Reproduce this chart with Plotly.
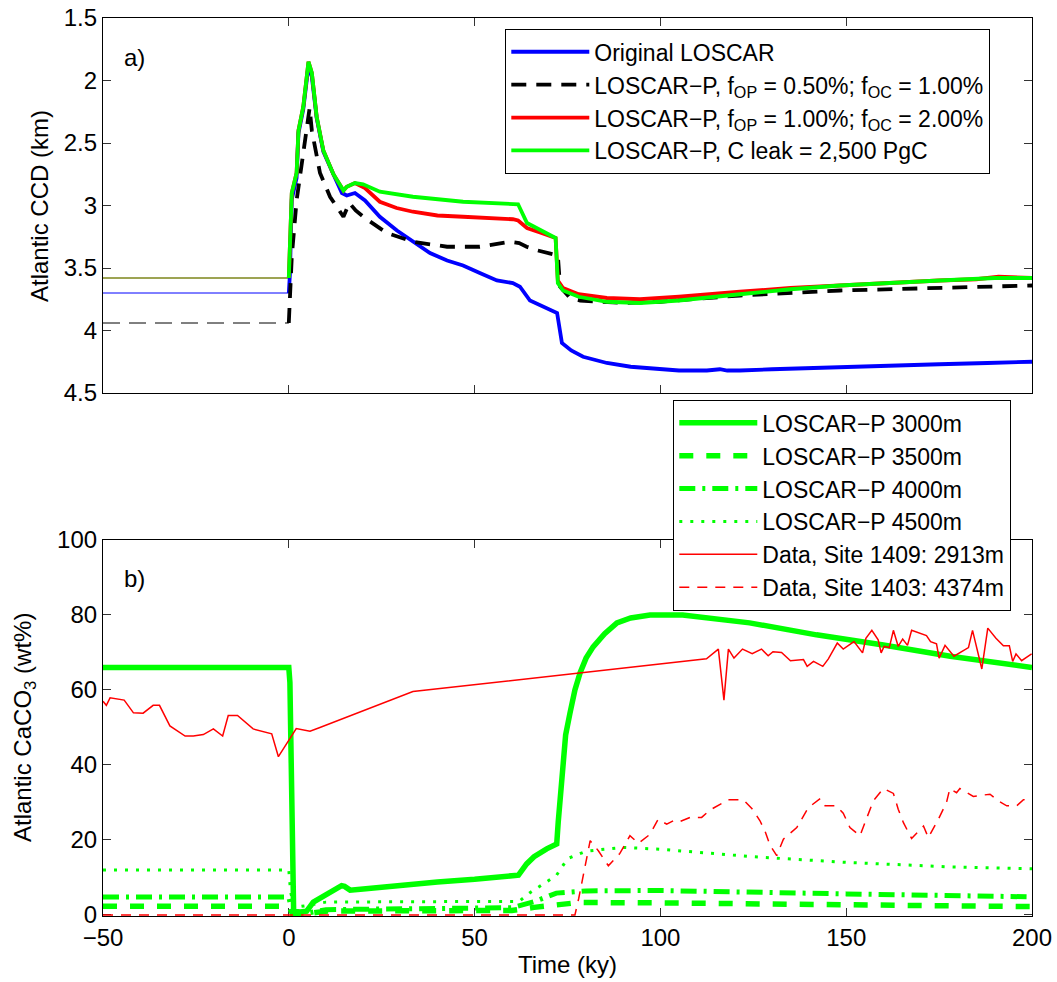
import plotly.graph_objects as go

# ---------------- panel a) Atlantic CCD (km) ----------------
t_pre = [-50, 0]
ccd_pre_orig = [3.70, 3.70]
ccd_pre_p05 = [3.94, 3.94]
ccd_pre_p10 = [3.58, 3.58]
ccd_pre_leak = [3.58, 3.58]

t_orig = [0, 0.3, 0.8, 2.1, 2.6, 3.9, 5.3, 6.2, 7.5, 9.3, 12, 14.3, 15.6, 17.8, 20.5, 24.5,
          29.1, 33.4, 38, 42.6, 46.9, 51.4, 56, 60.3, 62.2, 64.9, 68.4, 71.6, 72.2, 73.5, 76,
          79.2, 85.6, 92, 99, 105, 112.5, 116, 118, 121.4, 130, 140, 148.3, 160, 170, 175,
          188, 200]
ccd_orig = [3.70, 3.55, 2.95, 2.78, 2.42, 2.23, 1.88, 1.97, 2.30, 2.57, 2.75, 2.90, 2.92, 2.90,
            2.96, 3.09, 3.20, 3.29, 3.38, 3.44, 3.48, 3.54, 3.60, 3.62, 3.65, 3.76, 3.81, 3.85,
            3.86, 4.10, 4.16, 4.21, 4.26, 4.29, 4.31, 4.32, 4.32, 4.31, 4.32, 4.32, 4.31, 4.30,
            4.29, 4.28, 4.27, 4.27, 4.26, 4.25]

t_p05 = [0, 0.8, 2.1, 3.9, 5.6, 6.2, 8.4, 11.1, 14.7, 16.3, 18, 20.5, 26.4, 33.4, 42.6, 51.4,
         56, 59.5, 62, 64, 67, 70.3, 72.4, 73, 75.7, 78.4, 90, 100, 121.4, 148.3, 175, 200]
ccd_p05 = [3.94, 3.41, 2.96, 2.56, 2.22, 2.40, 2.74, 2.93, 3.09, 2.98, 3.04, 3.10, 3.22, 3.29,
           3.33, 3.33, 3.31, 3.29, 3.30, 3.33, 3.36, 3.38, 3.40, 3.65, 3.74, 3.76, 3.78, 3.77,
           3.72, 3.68, 3.66, 3.64]

t_p10 = [0, 0.3, 0.8, 2.1, 2.6, 3.9, 5.3, 6.2, 7.5, 9.3, 12, 14.7, 15.6, 17.8, 20.5, 24.5, 29,
         33.4, 40, 46.9, 55, 60.3, 61.7, 64.1, 68, 71.1, 71.8, 72.4, 73.8, 78, 85.6, 94.5, 105,
         121.4, 135, 148.3, 160, 175, 185, 191, 200]
ccd_p10 = [3.58, 3.22, 2.90, 2.74, 2.40, 2.21, 1.85, 1.94, 2.29, 2.56, 2.75, 2.88, 2.85, 2.82,
           2.86, 2.97, 3.02, 3.05, 3.08, 3.09, 3.10, 3.11, 3.12, 3.18, 3.22, 3.25, 3.26, 3.60,
           3.66, 3.71, 3.74, 3.75, 3.73, 3.69, 3.66, 3.64, 3.62, 3.60, 3.59, 3.57, 3.58]

t_leak = [0, 0.3, 0.8, 2.1, 2.6, 3.9, 5.3, 6.2, 7.5, 9.3, 12, 14.7, 15.6, 17.8, 20, 24.5, 33.4,
          46.9, 60.3, 61.7, 64.1, 68, 71.1, 71.8, 72.4, 73.8, 78, 85.6, 94.5, 105, 121.4, 135,
          148.3, 160, 175.2, 190, 200]
ccd_leak = [3.58, 3.22, 2.90, 2.74, 2.40, 2.21, 1.85, 1.94, 2.29, 2.56, 2.75, 2.88, 2.85, 2.82,
            2.83, 2.89, 2.93, 2.97, 2.99, 2.99, 3.14, 3.20, 3.25, 3.26, 3.62, 3.68, 3.73, 3.77,
            3.78, 3.76, 3.71, 3.67, 3.64, 3.62, 3.60, 3.58, 3.58]

# ---------------- panel b) Atlantic CaCO3 (wt%) ----------------
t_3000 = [-50, 0, 0.3, 0.7, 1.0, 1.3, 3, 4.8, 6.6, 10, 14.2, 15, 16.5, 20, 30, 40, 50, 61.8, 64,
          66, 69.4, 72.1, 72.5, 73.8, 74.5, 75.7, 77, 78.4, 80, 81.9, 85, 88.3, 92, 97.2, 106,
          124, 142, 160, 178, 200]
caco3_3000 = [66, 66, 62, 30, 5, 1.0, 0.8, 1.0, 3.4, 5.2, 7.8, 7.6, 6.6, 6.9, 8.0, 8.8, 9.5, 10.6,
              13.6, 15.5, 17.6, 18.9, 24.7, 42, 48, 54, 60, 64.6, 68.5, 71.5, 75, 77.9, 79.2, 80,
              80, 77.9, 74.7, 72, 69, 66]

t_3500 = [-50, 0, 1, 5, 10, 30, 60, 66, 72, 78, 100, 150, 200]
caco3_3500 = [2.3, 2.3, 0.3, 0.3, 1.0, 1.1, 1.2, 2.0, 2.8, 3.3, 3.2, 2.7, 2.2]

t_4000 = [-50, 0, 1, 5, 10, 30, 60, 66, 72, 80, 100, 150, 200]
caco3_4000 = [4.8, 4.8, 0.3, 0.5, 1.4, 1.6, 1.9, 3.5, 5.8, 6.4, 6.5, 5.6, 4.8]

t_4500 = [-50, 0, 0.5, 1.5, 5, 10, 30, 62, 65, 72, 75, 80, 90, 100, 125, 150, 178, 200]
caco3_4500 = [12, 12, 6, 2, 2.5, 3.4, 3.5, 3.6, 6, 10.5, 15, 17, 18, 17.5, 15.5, 14, 12.8, 12.3]

t_1409 = [-50, -49.1, -48.1, -46.3, -44.3, -41.8, -39.2, -36.5, -34.8, -32, -27.9, -25.7, -23,
          -20.3, -17.8, -16.3, -13.8, -9.6, -4.6, -2.8, 2.0, 5.7, 8.2, 33.4, 112.4, 115.6, 117.1,
          118.3, 119.8, 122.1, 124.7, 127.2, 129.0, 130.3, 132.6, 135.0, 138.5, 139.5, 141.2,
          143.7, 145.2, 147.6, 149.2, 152.1, 154.4, 155.3, 156.9, 158.6, 159.4, 160.2, 161.6,
          162.7, 164.0, 165.2, 166.5, 167.6, 171.6, 172.7, 174.3, 175.0, 176.6, 179.0, 180.6,
          182.9, 184.0, 186.5, 188.1, 190.3, 192.3, 193.9, 194.8, 195.7, 197.2, 199.9]
caco3_1409 = [57.0, 55.9, 57.9, 57.7, 57.3, 53.9, 53.8, 55.9, 55.9, 50.4, 47.7, 47.7, 48.1, 49.6,
              47.7, 53.2, 53.2, 49.6, 48.3, 42.2, 49.7, 49.0, 49.9, 59.6, 68.3, 70.9, 57.3, 70.9,
              68.5, 70.9, 69.7, 70.9, 69.1, 70.2, 70.0, 67.8, 68.1, 66.3, 67.6, 66.3, 68.3, 72.5,
              70.9, 72.9, 69.9, 73.8, 75.9, 73.4, 69.9, 71.6, 71.3, 75.9, 71.6, 73.6, 71.9, 75.9,
              74.5, 72.9, 72.3, 68.5, 71.9, 69.0, 70.0, 71.3, 75.9, 65.6, 76.5, 73.8, 71.8, 71.8,
              67.6, 69.6, 67.8, 69.6]

t_1403 = [-50, -40, -30, -20, -10, 0, 10, 20, 30, 40, 50, 60, 70, 77, 78, 80.2, 81.1, 83.3, 86.0,
          89.1, 91.8, 94.1, 97.2, 99.4, 101.7, 103.5, 104.8, 108, 111.1, 113.4, 116.0, 118.3,
          122.3, 124.6, 126.8, 128.2, 129.5, 131.3, 133.1, 136.7, 139.8, 143.0, 144.3, 147.4,
          149.2, 151.0, 153.7, 155.5, 157.3, 160.0, 162.7, 164.0, 165.4, 167.6, 170.8, 172.1,
          174.8, 177.0, 177.9, 179.7, 180.6, 184.2, 188.7, 190.9, 193.2, 195.9, 197.7, 199.9]
caco3_1403 = [0, 0, 0, 0, 0, 0, 0, 0, 0, 0, 0, 0, 0, 0, 4.3, 15.8, 19.8, 17.1, 13.1, 16.4, 21.1,
              19.1, 21.5, 25.5, 24.2, 25.1, 24.7, 26.0, 26.0, 28.0, 29.5, 30.7, 30.7, 28.4, 25.1,
              22.2, 18.6, 15.8, 20.2, 23.3, 28.6, 31.0, 29.1, 29.1, 27.1, 23.3, 21.1, 25.5, 30.4,
              33.7, 32.4, 28.2, 24.6, 20.4, 23.7, 20.6, 25.5, 30.0, 33.7, 32.6, 33.7, 31.6, 32.2,
              30.4, 29.1, 29.1, 30.7, 31.0]

FONT = "Liberation Sans, Arial, Helvetica, sans-serif"
BLUE, RED, GREEN, BLACK = "#0000ff", "#ff0000", "#00ff00", "#000000"

fig = go.Figure()

# pre-event steady states (thin)
fig.add_trace(go.Scatter(x=t_pre, y=ccd_pre_orig, mode="lines", line=dict(color=BLUE, width=1),
                         showlegend=False, xaxis="x", yaxis="y", hoverinfo="skip"))
fig.add_trace(go.Scatter(x=t_pre, y=ccd_pre_p05, mode="lines",
                         line=dict(color=BLACK, width=1, dash="17px,9px"),
                         showlegend=False, xaxis="x", yaxis="y", hoverinfo="skip"))
fig.add_trace(go.Scatter(x=t_pre, y=ccd_pre_p10, mode="lines", line=dict(color=RED, width=1),
                         showlegend=False, xaxis="x", yaxis="y", hoverinfo="skip"))
fig.add_trace(go.Scatter(x=t_pre, y=ccd_pre_leak, mode="lines", line=dict(color="#3cc828", width=1.2),
                         showlegend=False, xaxis="x", yaxis="y", hoverinfo="skip"))

# model runs after the onset
fig.add_trace(go.Scatter(x=t_orig, y=ccd_orig, mode="lines", name="Original LOSCAR",
                         line=dict(color=BLUE, width=3.8), xaxis="x", yaxis="y", legend="legend"))
fig.add_trace(go.Scatter(x=t_p05, y=ccd_p05, mode="lines",
                         name="LOSCAR\u2212P, f<sub>OP</sub> = 0.50%; f<sub>OC</sub> = 1.00%",
                         line=dict(color=BLACK, width=3.8, dash="15px,10px"),
                         xaxis="x", yaxis="y", legend="legend"))
fig.add_trace(go.Scatter(x=t_p10, y=ccd_p10, mode="lines",
                         name="LOSCAR\u2212P, f<sub>OP</sub> = 1.00%; f<sub>OC</sub> = 2.00%",
                         line=dict(color=RED, width=3.8), xaxis="x", yaxis="y", legend="legend"))
fig.add_trace(go.Scatter(x=t_leak, y=ccd_leak, mode="lines",
                         name="LOSCAR\u2212P, C leak = 2,500 PgC",
                         line=dict(color=GREEN, width=3.8), xaxis="x", yaxis="y", legend="legend"))

# CaCO3 content at different depths
fig.add_trace(go.Scatter(x=t_3000, y=caco3_3000, mode="lines", name="LOSCAR\u2212P 3000m",
                         line=dict(color=GREEN, width=5.5), xaxis="x2", yaxis="y2", legend="legend2"))
fig.add_trace(go.Scatter(x=t_3500, y=caco3_3500, mode="lines", name="LOSCAR\u2212P 3500m",
                         line=dict(color=GREEN, width=5.5, dash="14px,13px"),
                         xaxis="x2", yaxis="y2", legend="legend2"))
fig.add_trace(go.Scatter(x=t_4000, y=caco3_4000, mode="lines", name="LOSCAR\u2212P 4000m",
                         line=dict(color=GREEN, width=5, dash="16px,7px,3px,7px"),
                         xaxis="x2", yaxis="y2", legend="legend2"))
fig.add_trace(go.Scatter(x=t_4500, y=caco3_4500, mode="lines", name="LOSCAR\u2212P 4500m",
                         line=dict(color=GREEN, width=3, dash="3px,8px"),
                         xaxis="x2", yaxis="y2", legend="legend2"))
fig.add_trace(go.Scatter(x=t_1409, y=caco3_1409, mode="lines", name="Data, Site 1409: 2913m",
                         line=dict(color=RED, width=1.5), xaxis="x2", yaxis="y2", legend="legend2"))
fig.add_trace(go.Scatter(x=t_1403, y=caco3_1403, mode="lines", name="Data, Site 1403: 4374m",
                         line=dict(color=RED, width=1.5, dash="10px,8px"),
                         xaxis="x2", yaxis="y2", legend="legend2"))

W, H = 1057, 982
ML, MR, MT, MB = 103, 25, 18, 66
pw = W - ML - MR
ph = H - MT - MB
top_lo = (H - MB - 393) / ph
bot_hi = (H - MB - 540) / ph


def px_x(px):
    return (px - ML) / pw


def px_y(py):
    return (H - MB - py) / ph


axis_common = dict(
    showline=True, linecolor="black", linewidth=1.2, mirror="ticks",
    ticks="inside", ticklen=8, tickcolor="#333333", tickwidth=1,
    showgrid=False, zeroline=False, automargin=False, layer="below traces",
    tickfont=dict(family=FONT, size=24, color="black"),
)

legend_common = dict(
    font=dict(family=FONT, size=23, color="black"),
    bgcolor="white", bordercolor="black", borderwidth=1.3,
    xanchor="left", yanchor="top", tracegroupgap=0, itemwidth=78,
    xref="paper", yref="paper",
)

title_font = dict(family=FONT, size=24, color="black")

fig.update_layout(
    width=W, height=H, template="none",
    paper_bgcolor="white", plot_bgcolor="white",
    margin=dict(l=ML, r=MR, t=MT, b=MB, autoexpand=False),
    font=dict(family=FONT, size=23, color="black"),
    xaxis=dict(axis_common, domain=[0, 1], anchor="y", range=[-50, 200],
               tickvals=[-50, 0, 50, 100, 150, 200], showticklabels=False),
    yaxis=dict(axis_common, domain=[top_lo, 1], anchor="x", range=[4.5, 1.5],
               tickvals=[1.5, 2, 2.5, 3, 3.5, 4, 4.5],
               ticktext=["1.5", "2", "2.5", "3", "3.5", "4", "4.5"]),
    xaxis2=dict(axis_common, domain=[0, 1], anchor="y2", range=[-50, 200],
                tickvals=[-50, 0, 50, 100, 150, 200],
                ticktext=["\u221250", "0", "50", "100", "150", "200"],
                title=dict(text="Time (ky)", font=title_font, standoff=6)),
    yaxis2=dict(axis_common, domain=[0, bot_hi], anchor="x2", range=[-0.3, 100],
                tickvals=[0, 20, 40, 60, 80, 100]),
    legend=dict(legend_common, x=px_x(505), y=px_y(29)),
    legend2=dict(legend_common, x=px_x(673), y=px_y(400)),
    annotations=[
        dict(text="a)", x=px_x(122), y=px_y(57), xref="paper", yref="paper",
             xanchor="left", yanchor="middle", showarrow=False, font=title_font),
        dict(text="b)", x=px_x(122), y=px_y(578), xref="paper", yref="paper",
             xanchor="left", yanchor="middle", showarrow=False, font=title_font),
        dict(text="Atlantic CCD (km)", x=px_x(40), y=px_y(206), xref="paper", yref="paper",
             xanchor="center", yanchor="middle", textangle=-90, showarrow=False, font=title_font),
        dict(text="Atlantic CaCO<sub>3</sub> (wt%)", x=px_x(24), y=px_y(728), xref="paper",
             yref="paper", xanchor="center", yanchor="middle", textangle=-90, showarrow=False,
             font=title_font),
    ],
)

fig.write_html("out.html")
